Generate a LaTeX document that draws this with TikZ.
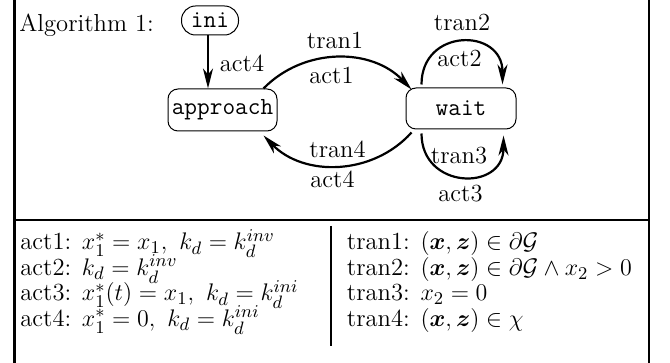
\documentclass[tikz,border=0pt]{standalone}
\usepackage{amsmath}
\usepackage{fontspec}
\usetikzlibrary{arrows.meta}
\begin{document}
\begin{tikzpicture}[x=0.5pt,y=-0.5pt,
  font=\fontsize{12.3}{14}\selectfont,
  state/.style={draw, line width=0.5pt, rounded corners=5pt, inner sep=0pt,
    font=\fontsize{12.3}{14}\selectfont\ttfamily},
  conn/.style={line width=1.1pt, -{Stealth[length=10pt,width=5pt,inset=3pt]}},
  lbl/.style={anchor=base, inner sep=0pt},
  rowtext/.style={anchor=base west, inner sep=0pt},
  frameline/.style={line width=1.2pt}]
\useasboundingbox (0,0) rectangle (670,363);
% frame
\draw[frameline] (14.5,-5) -- (14.5,370);
\draw[frameline] (649,-5) -- (649,370);
\draw[frameline] (14.5,220.3) -- (649,220.3);
\draw[line width=1pt] (331,226) -- (331,346);
% title
\node[rowtext] (title) at (19,32) {Algorithm 1:};
% states
\node[state, rounded corners=7pt, minimum width=28.5pt, minimum height=14.5pt] (ini) at (210,20.5) {ini};
\node[state, minimum width=54.5pt, minimum height=21pt] (approach) at (222.5,110) {approach};
\node[state, minimum width=55pt, minimum height=20.5pt] (wait) at (461,108.5) {wait};
% connectors
\draw[conn] ([xshift=-1pt]ini.south) -- ([xshift=-1pt]ini.south |- approach.north);
\draw[conn] ([xshift=-7pt]approach.north east) to[bend left=46] ([xshift=3pt,yshift=-1pt]wait.north west);
\draw[conn] ([xshift=3pt,yshift=-1.5pt]wait.south west) to[bend left=47] ([xshift=-7pt,yshift=-2pt]approach.south east);
\draw[conn] ([xshift=8pt,yshift=1.5pt]wait.north west) to[out=90,in=90,looseness=1.8] ([xshift=-7pt,yshift=1.5pt]wait.north east);
\draw[conn] ([xshift=8pt,yshift=-2pt]wait.south west) to[out=-90,in=-90,looseness=1.75] ([xshift=-6.5pt,yshift=-3pt]wait.south east);
% labels
\node[lbl] (l0) at (242,72) {act4};
\node[lbl] (l1) at (335,49) {tran1};
\node[lbl] (l2) at (331.5,84) {act1};
\node[lbl] (l3) at (337.5,158) {tran4};
\node[lbl] (l4) at (332.5,188) {act4};
\node[lbl] (l5) at (462,31) {tran2};
\node[lbl] (l6) at (459.5,67) {act2};
\node[lbl] (l7) at (459,164) {tran3};
\node[lbl] (l8) at (460.5,202) {act3};
% table rows
\node[rowtext] (a1) at (20,250) {act1: $x_1^* = x_1,\ k_d = k_d^{inv}$};
\node[rowtext] (a2) at (20,275.5) {act2: $k_d = k_d^{inv}$};
\node[rowtext] (a3) at (20,301) {act3: $x_1^*(t) = x_1,\ k_d = k_d^{ini}$};
\node[rowtext] (a4) at (20,326.5) {act4: $x_1^* = 0,\ k_d = k_d^{ini}$};
\node[rowtext] (t1) at (346.5,250) {tran1: $(\boldsymbol{x},\boldsymbol{z}) \in \partial\mathcal{G}$};
\node[rowtext] (t2) at (346.5,275.5) {tran2: $(\boldsymbol{x},\boldsymbol{z}) \in \partial\mathcal{G} \wedge x_2 > 0$};
\node[rowtext] (t3) at (346.5,301) {tran3: $x_2 = 0$};
\node[rowtext] (t4) at (346.5,326.5) {tran4: $(\boldsymbol{x},\boldsymbol{z}) \in \chi$};
\end{tikzpicture}
\end{document}
